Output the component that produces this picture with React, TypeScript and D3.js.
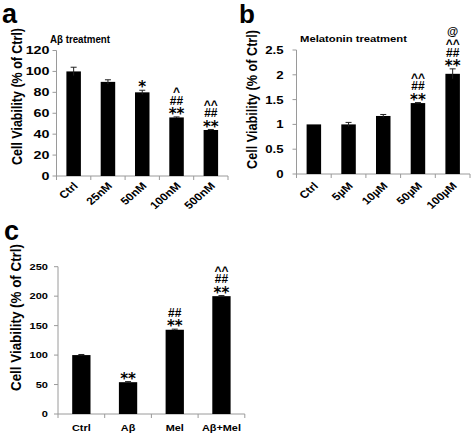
import React from "react";
import * as d3 from "d3";

// ---------- data ----------
const catsA = ["Ctrl", "25nM", "50nM", "100nM", "500nM"];
const valsA = [100, 90, 80, 56, 44];
const errA = [4, 2, 2, 0.5, 0.5];
const sigA: string[][] = [[], [], ["*"], ["**", "##", "^"], ["**", "##", "^^"]];
const ticksA = [0, 20, 40, 60, 80, 100, 120];
const titleA = "Aβ treatment";

const catsB = ["Ctrl", "5µM", "10µM", "50µM", "100µM"];
const valsB = [1, 1, 1.17, 1.43, 2.02];
const errB = [0, 0.04, 0.03, 0.01, 0.1];
const sigB: string[][] = [[], [], [], ["**", "##", "^^"], ["**", "##", "^^", "@"]];
const ticksB = [0, 0.5, 1, 1.5, 2, 2.5];
const titleB = "Melatonin treatment";

const catsC = ["Ctrl", "Aβ", "Mel", "Aβ+Mel"];
const valsC = [100, 54, 143, 200];
const errC = [1, 1, 1, 1];
const sigC: string[][] = [[], ["**"], ["**", "##"], ["**", "##", "^^"]];
const ticksC = [0, 50, 100, 150, 200, 250];

const yLabel = "Cell Viability (% of Ctrl)";

const FONT = "'Liberation Sans', Arial, sans-serif";
const AXIS = "#9a9a9a";

type Cfg = {
  letter: string; lx: number; ly: number; lFs: number;
  cats: string[]; vals: number[]; errs: number[]; sig: string[][]; ticks: number[];
  title?: string; tx?: number; ty?: number; tLen?: number; tFs?: number;
  x0: number; x1: number; y0: number; y1: number; max: number; barW: number;
  tickFs: number; tickSx: number; tickGap: number;
  ylX: number; ylY: number; ylLen: number;
  rotated: boolean; xFs: number; xSx: number; xY: number; xDx: number;
};

const sigStyle = (s: string) => {
  const c = s[0];
  if (c === "*") return { fs: 15, fam: "'DejaVu Sans', sans-serif", shift: 0.55 };
  if (c === "#") return { fs: 12, fam: FONT, shift: 0.35 };
  if (c === "^") return { fs: 12, fam: FONT, shift: 0.52 };
  return { fs: 11.5, fam: FONT, shift: 0.26 };
};
const sigOffsets = [6, 16.5, 27, 37];

function Panel({ c }: { c: Cfg }) {
  const x = d3.scaleBand<string>().domain(c.cats).range([c.x0, c.x1]).padding(0);
  const y = d3.scaleLinear().domain([0, c.max]).range([c.y0, c.y1]);
  const bw = x.bandwidth();
  const edges = d3.range(c.cats.length + 1).map((i) => c.x0 + i * bw);
  return (
    <g>
      <text x={c.lx} y={c.ly} fontFamily={FONT} fontWeight="bold" fontSize={c.lFs}>{c.letter}</text>
      {c.title && (
        <text x={c.tx} y={c.ty} fontFamily={FONT} fontWeight="bold" fontSize={c.tFs}
          textLength={c.tLen} lengthAdjust="spacingAndGlyphs">{c.title}</text>
      )}
      <text transform={`translate(${c.ylX},${c.ylY}) scale(1.15,1) rotate(-90)`} textAnchor="middle"
        fontFamily={FONT} fontWeight="bold" fontSize={13} textLength={c.ylLen}
        lengthAdjust="spacingAndGlyphs">{yLabel}</text>
      {/* axes */}
      <line x1={c.x0} x2={c.x0} y1={y(c.max)} y2={c.y0} stroke={AXIS} strokeWidth={1} />
      <line x1={c.x0} x2={c.x1} y1={c.y0} y2={c.y0} stroke={AXIS} strokeWidth={1} />
      {c.ticks.map((t) => (
        <g key={t}>
          <line x1={c.x0 - 4} x2={c.x0} y1={y(t)} y2={y(t)} stroke={AXIS} />
          <text transform={`translate(${c.x0 - c.tickGap},${y(t)}) scale(${c.tickSx},1)`} dy="0.36em"
            textAnchor="end" fontFamily={FONT} fontWeight="bold" fontSize={c.tickFs}>{String(t)}</text>
        </g>
      ))}
      {edges.map((e, i) => (
        <line key={i} x1={e} x2={e} y1={c.y0} y2={c.y0 + 4} stroke={AXIS} />
      ))}
      {/* bars */}
      {c.cats.map((cat, i) => {
        const cx = (x(cat) as number) + bw / 2;
        const v = c.vals[i];
        const e = c.errs[i];
        return (
          <g key={cat}>
            <rect x={cx - c.barW / 2} y={y(v)} width={c.barW} height={c.y0 - y(v)} fill="#000" />
            {e > 0 && (
              <g stroke="#222" strokeWidth={1}>
                <line x1={cx} x2={cx} y1={y(v - e)} y2={y(v + e)} />
                <line x1={cx - 3} x2={cx + 3} y1={y(v + e)} y2={y(v + e)} />
              </g>
            )}
            {c.sig[i].map((s, j) => {
              const st = sigStyle(s);
              const cy = y(v + e) - sigOffsets[j];
              return (
                <text key={j} x={cx} y={cy + st.shift * st.fs} textAnchor="middle" fontFamily={st.fam}
                  fontWeight="bold" fontSize={st.fs}>{s}</text>
              );
            })}
            {c.rotated ? (
              <text transform={`translate(${cx + c.xDx},${c.xY}) scale(${c.xSx},1) rotate(-45)`} dy="0.35em"
                textAnchor="end" fontFamily={FONT} fontWeight="bold" fontSize={c.xFs}>{cat}</text>
            ) : (
              <text transform={`translate(${cx},${c.xY}) scale(${c.xSx},1)`} textAnchor="middle"
                fontFamily={FONT} fontWeight="bold" fontSize={c.xFs}>{cat}</text>
            )}
          </g>
        );
      })}
    </g>
  );
}

const cfgA: Cfg = {
  letter: "a", lx: 2, ly: 23, lFs: 27, cats: catsA, vals: valsA, errs: errA, sig: sigA, ticks: ticksA,
  title: titleA, tx: 50, ty: 43.3, tLen: 60, tFs: 10,
  x0: 56.5, x1: 228, y0: 176, y1: 50.5, max: 120, barW: 14.5,
  tickFs: 11, tickSx: 1.3, tickGap: 7, ylX: 22.4, ylY: 96.5, ylLen: 137,
  rotated: true, xFs: 10.5, xSx: 1.15, xY: 184, xDx: 2,
};
const cfgB: Cfg = {
  letter: "b", lx: 239, ly: 23, lFs: 26, cats: catsB, vals: valsB, errs: errB, sig: sigB, ticks: ticksB,
  title: titleB, tx: 300, ty: 41.5, tLen: 107, tFs: 9.5,
  x0: 296.5, x1: 470, y0: 174, y1: 50, max: 2.5, barW: 14.5,
  tickFs: 11, tickSx: 1.2, tickGap: 13, ylX: 256.9, ylY: 99.5, ylLen: 139,
  rotated: true, xFs: 10.5, xSx: 1.15, xY: 184, xDx: 2,
};
const cfgC: Cfg = {
  letter: "c", lx: 4, ly: 240, lFs: 27, cats: catsC, vals: valsC, errs: errC, sig: sigC, ticks: ticksC,
  x0: 58, x1: 244.8, y0: 414, y1: 266.7, max: 250, barW: 18.3,
  tickFs: 8.5, tickSx: 1.3, tickGap: 10, ylX: 21.4, ylY: 317.5, ylLen: 147,
  rotated: false, xFs: 8.5, xSx: 1.28, xY: 431, xDx: 0,
};

export default function App() {
  return (
    <svg width={472} height={434} style={{ position: "absolute", left: 0, top: 0, background: "#fff" }}>
      <rect width={472} height={434} fill="#fff" />
      <Panel c={cfgA} />
      <Panel c={cfgB} />
      <Panel c={cfgC} />
    </svg>
  );
}
